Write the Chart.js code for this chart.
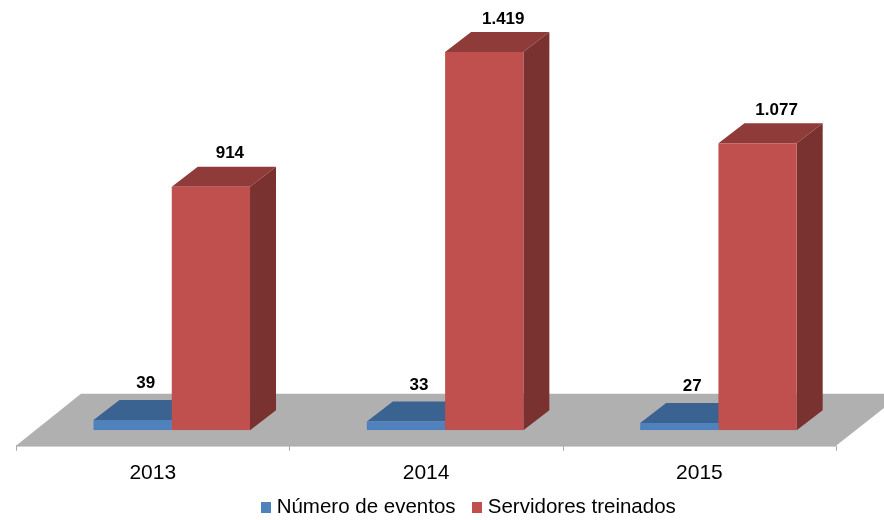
<!DOCTYPE html>
<html><head><meta charset="utf-8">
<style>html,body{margin:0;padding:0;background:#fff}canvas{display:block}</style>
<script src="https://cdn.jsdelivr.net/npm/chart.js@4"></script>
</head><body><canvas id="c" width="884" height="520"></canvas>
<script>
const categories = ['2013','2014','2015'];
const eventos = [39,33,27];
const servidores = [914,1419,1077];
const labelsEventos = ['39','33','27'];
const labelsServidores = ['914','1.419','1.077'];

const shade = {
  '#4F81BD':{top:'#3B6392',side:'#35587F'},
  '#C0504D':{top:'#8F3B39',side:'#7A3230'}
};
const DX=26, DY=20, AXIS_SHIFT=19.1;

function swatch(color){
  const s=document.createElement('canvas');s.width=10;s.height=11;
  const g=s.getContext('2d');g.fillStyle=color;g.fillRect(0,0,10,11);return s;
}

const scene = {
  id:'scene',
  afterLayout(chart){
    const l=chart.legend;
    l.left+=25.5; l.right+=25.5;
    const h=l.height; l.top=502-h/2; l.bottom=l.top+h;
  },
  beforeDatasetsDraw(chart){
    const {ctx,scales:{x,y}}=chart;
    const base=y.getPixelForValue(0);
    const L=x.left-AXIS_SHIFT, R=x.right-AXIS_SHIFT;
    const front=base+15.5, back=base-36.5;
    ctx.save();
    ctx.fillStyle='#B0B0B0';
    ctx.beginPath();
    ctx.moveTo(L,front);ctx.lineTo(L+65,back);ctx.lineTo(R+66,back);ctx.lineTo(R,front);ctx.closePath();ctx.fill();
    ctx.strokeStyle='#A6A6A6';ctx.lineWidth=1.2;
    ctx.beginPath();ctx.moveTo(L,front);ctx.lineTo(R,front);ctx.stroke();
    const step=(R-L)/categories.length;
    ctx.lineWidth=1;ctx.strokeStyle='#ABABAB';
    for(let i=0;i<=categories.length;i++){
      const px=Math.round(L+i*step)+0.5;
      ctx.beginPath();ctx.moveTo(px,front);ctx.lineTo(px,front+5);ctx.stroke();
    }
    chart.data.datasets.forEach((ds,di)=>{
      const c=shade[ds.backgroundColor];
      chart.getDatasetMeta(di).data.forEach(b=>{
        const x0=b.x-b.width/2,x1=b.x+b.width/2;
        ctx.fillStyle=c.top;
        ctx.beginPath();ctx.moveTo(x0,b.y);ctx.lineTo(x0+DX,b.y-DY);ctx.lineTo(x1+DX,b.y-DY);ctx.lineTo(x1,b.y);ctx.closePath();ctx.fill();
        ctx.fillStyle=c.side;
        ctx.beginPath();ctx.moveTo(x1,b.y);ctx.lineTo(x1+DX,b.y-DY);ctx.lineTo(x1+DX,b.base-DY);ctx.lineTo(x1,b.base);ctx.closePath();ctx.fill();
      });
    });
    ctx.restore();
  },
  afterDatasetsDraw(chart){
    const {ctx}=chart;
    ctx.save();
    ctx.font='bold 17px "Liberation Sans"';
    ctx.fillStyle='#000';ctx.textAlign='center';ctx.textBaseline='middle';
    [[labelsEventos,13,-36.5],[labelsServidores,19,-33]].forEach(([txt,ox,oy],di)=>{
      chart.getDatasetMeta(di).data.forEach((b,i)=>ctx.fillText(txt[i],b.x+ox,b.y+oy));
    });
    ctx.restore();
  }
};

new Chart(document.getElementById('c'),{
  type:'bar',
  data:{labels:categories,datasets:[
    {label:'Número de eventos',data:eventos,backgroundColor:'#4F81BD',borderWidth:0},
    {label:'Servidores treinados',data:servidores,backgroundColor:'#C0504D',borderWidth:0}
  ]},
  options:{
    responsive:false,animation:false,
    layout:{padding:{left:35.1,right:28.9,top:30.4,bottom:-39}},
    datasets:{bar:{barPercentage:1,categoryPercentage:0.5726}},
    scales:{
      x:{grid:{display:false},border:{display:false},
         ticks:{labelOffset:-19,padding:22,color:'#000',maxRotation:0,font:{family:'"Liberation Sans"',size:21}}},
      y:{display:false,min:0,max:1500}
    },
    plugins:{
      tooltip:{enabled:false},
      legend:{position:'bottom',
        labels:{color:'#000',font:{family:'"Liberation Sans"',size:20.5},padding:21,
          usePointStyle:true,pointStyleWidth:1,boxHeight:11,
          generateLabels(chart){
            return Chart.defaults.plugins.legend.labels.generateLabels(chart).map((it,i)=>{
              it.pointStyle=swatch(chart.data.datasets[i].backgroundColor);return it;
            });
          }}}
    }
  },
  plugins:[scene]
});
</script>
</body></html>
